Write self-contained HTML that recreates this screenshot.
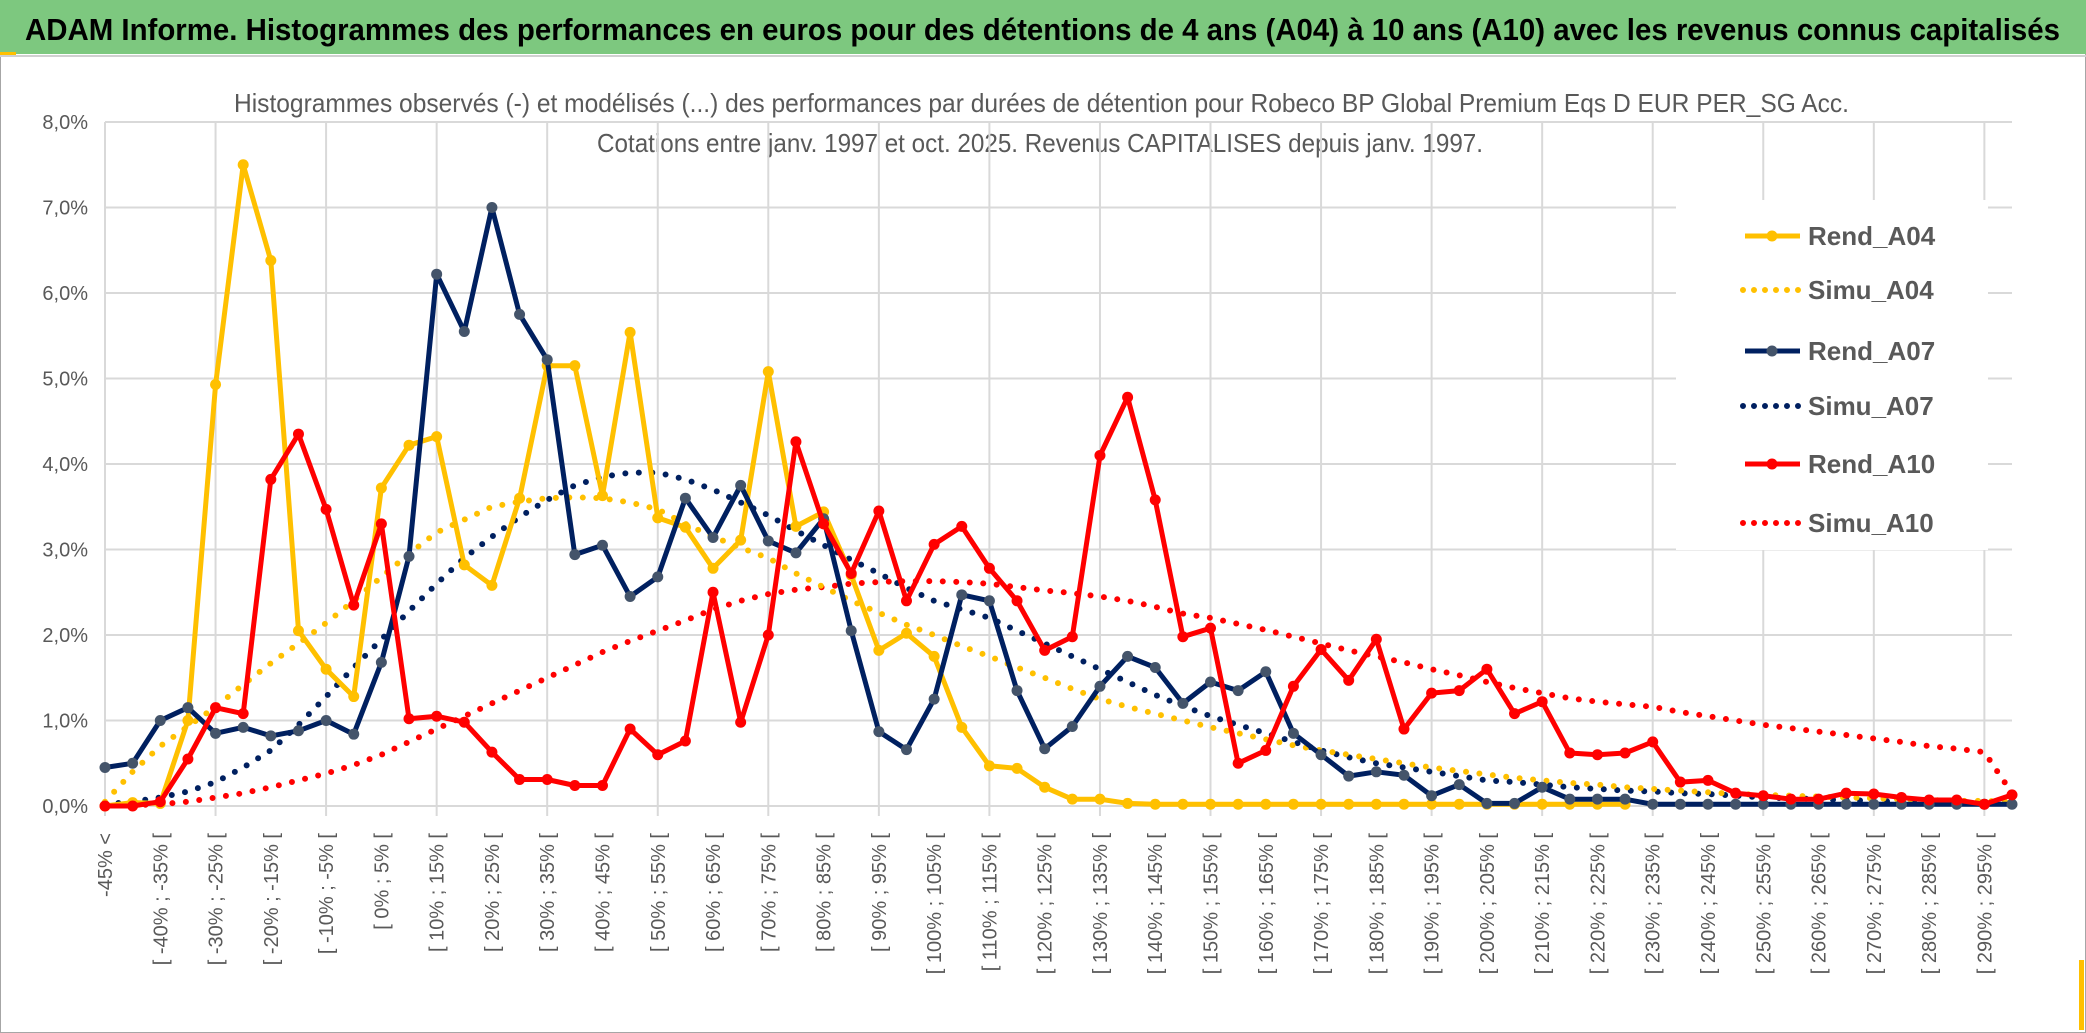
<!DOCTYPE html>
<html><head><meta charset="utf-8">
<style>
html,body{margin:0;padding:0;background:#fff;}
svg{display:block;font-family:"Liberation Sans",sans-serif;}
</style></head>
<body>
<svg id="chart" width="2086" height="1033" viewBox="0 0 2086 1033" xmlns="http://www.w3.org/2000/svg">
  <rect x="0.5" y="0.5" width="2085" height="1032" fill="#fff" stroke="#a6a6a6"/>
  <rect x="0" y="0" width="2086" height="54" fill="#7dc87f"/>
  <rect x="0" y="52" width="16" height="3" fill="#ffc000"/>
  <line x1="0" y1="56" x2="2086" y2="56" stroke="#d0d0d0" stroke-width="2"/>
  <text x="25" y="40" font-size="31" font-weight="bold" fill="#000" textLength="2035" lengthAdjust="spacingAndGlyphs">ADAM Informe. Histogrammes des performances en euros pour des détentions de 4 ans (A04) à 10 ans (A10) avec les revenus connus capitalisés</text>
  <text x="234" y="112" font-size="26" fill="#595959" textLength="1615" lengthAdjust="spacingAndGlyphs">Histogrammes observés (-) et modélisés (...) des performances par durées de détention pour Robeco BP Global Premium Eqs D EUR PER_SG Acc.</text>
  <text x="597" y="152" font-size="26" fill="#595959" textLength="886" lengthAdjust="spacingAndGlyphs">Cotations entre janv. 1997 et oct. 2025. Revenus CAPITALISES depuis janv. 1997.</text>
  <g id="grid"></g>
  <g id="series"></g>
  <g id="legend"></g>
  <rect x="1393" y="1015" width="0" height="0" fill="none"/>
  <rect x="2079" y="960" width="5" height="70" fill="#ffc000"/>
</svg>
<script>
const NS = "http://www.w3.org/2000/svg";
const yTicks = [0,1,2,3,4,5,6,7,8];
const rendA04 = [0,0.04,0.03,1.0,4.93,7.5,6.38,2.05,1.6,1.28,3.72,4.22,4.32,2.82,2.58,3.6,5.15,5.15,3.63,5.54,3.37,3.26,2.78,3.11,5.08,3.27,3.44,2.7,1.82,2.02,1.75,0.92,0.47,0.44,0.22,0.08,0.08,0.03,0.02,0.02,0.02,0.02,0.02,0.02,0.02,0.02,0.02,0.02,0.02,0.02,0.02,0.02,0.02,0.02,0.02,0.02,null,null,null,null,null,null,null,null,null,null,null,null,null,null];
const rendA07 = [0.45,0.5,1.0,1.15,0.85,0.92,0.82,0.88,1.0,0.84,1.68,2.92,6.22,5.55,7.0,5.75,5.22,2.94,3.05,2.45,2.68,3.6,3.14,3.75,3.1,2.96,3.36,2.05,0.87,0.66,1.25,2.47,2.4,1.35,0.67,0.93,1.4,1.75,1.62,1.2,1.45,1.35,1.57,0.85,0.6,0.35,0.4,0.36,0.12,0.25,0.03,0.03,0.22,0.08,0.08,0.08,0.02,0.02,0.02,0.02,0.02,0.02,0.02,0.02,0.02,0.02,0.02,0.02,0.02,0.02];
const rendA10 = [0,0,0.05,0.55,1.15,1.08,3.82,4.35,3.47,2.35,3.3,1.02,1.05,0.98,0.63,0.31,0.31,0.24,0.24,0.9,0.6,0.76,2.5,0.98,2.0,4.26,3.3,2.72,3.45,2.4,3.06,3.27,2.78,2.4,1.82,1.98,4.1,4.78,3.58,1.98,2.08,0.5,0.65,1.4,1.83,1.47,1.95,0.9,1.32,1.35,1.6,1.08,1.22,0.62,0.6,0.62,0.75,0.28,0.3,0.15,0.12,0.08,0.08,0.15,0.14,0.1,0.07,0.07,0.02,0.13];
const simuA04 = [0.05,0.4,0.7,0.93,1.16,1.42,1.67,1.9,2.14,2.4,2.68,2.95,3.2,3.35,3.5,3.56,3.6,3.61,3.6,3.55,3.47,3.3,3.15,3.02,2.9,2.72,2.56,2.4,2.26,2.12,2.0,1.87,1.75,1.62,1.5,1.37,1.25,1.16,1.08,1.0,0.92,0.85,0.78,0.71,0.65,0.6,0.55,0.5,0.45,0.41,0.37,0.33,0.3,0.27,0.25,0.22,0.2,0.18,0.16,0.14,0.13,0.12,0.11,0.1,0.09,0.08,0.07,0.06,0.06,0.05];
const simuA07 = [0.02,0.05,0.1,0.17,0.28,0.45,0.65,0.95,1.28,1.62,1.95,2.28,2.6,2.9,3.15,3.38,3.58,3.75,3.85,3.9,3.9,3.82,3.7,3.55,3.4,3.22,3.05,2.88,2.72,2.55,2.4,2.3,2.2,2.05,1.9,1.75,1.6,1.45,1.3,1.17,1.05,0.95,0.85,0.75,0.65,0.57,0.5,0.45,0.4,0.35,0.3,0.28,0.25,0.22,0.2,0.18,0.17,0.15,0.14,0.12,0.1,0.09,0.08,0.07,0.06,0.05,0.05,0.04,0.04,0.03];
const simuA10 = [0,0.01,0.02,0.05,0.1,0.15,0.22,0.3,0.38,0.48,0.6,0.75,0.9,1.05,1.2,1.35,1.5,1.65,1.8,1.93,2.05,2.17,2.3,2.4,2.48,2.53,2.56,2.6,2.62,2.63,2.63,2.62,2.6,2.56,2.52,2.49,2.45,2.4,2.33,2.25,2.2,2.13,2.06,1.98,1.9,1.82,1.75,1.68,1.6,1.53,1.45,1.38,1.32,1.26,1.22,1.19,1.16,1.1,1.05,1.0,0.95,0.91,0.87,0.83,0.79,0.75,0.7,0.67,0.63,0.15];
const seriesNames = ["Rend_A04","Simu_A04","Rend_A07","Simu_A07","Rend_A10","Simu_A10"];

const N = 70;
const X0 = 105, X1 = 2012, Y0 = 806, YTOP = 122;
const xs = i => X0 + (X1 - X0) * i / (N - 1);
const ys = v => Y0 - (Y0 - YTOP) * v / 8;
function catLabel(i){
  if(i===0) return "-45% <";
  const a = -45 + 5*(i-1), b = a + 5;
  return "[ " + a + "% ; " + b + "% [";
}
const grid = document.getElementById('grid');
yTicks.forEach(t=>{
  const l = document.createElementNS(NS,'line');
  l.setAttribute('x1',X0); l.setAttribute('x2',X1);
  l.setAttribute('y1',ys(t)); l.setAttribute('y2',ys(t));
  l.setAttribute('stroke','#d9d9d9'); l.setAttribute('stroke-width','2');
  
  
  grid.appendChild(l);
  const tx = document.createElementNS(NS,'text');
  tx.setAttribute('x',88); tx.setAttribute('y',ys(t)+7);
  tx.setAttribute('text-anchor','end'); tx.setAttribute('font-size','20'); tx.setAttribute('fill','#595959');
  tx.textContent = t.toFixed(1).replace('.',',') + '%';
  
  
  grid.appendChild(tx);
});
for(let i=0;i<N;i+=4){
  const l = document.createElementNS(NS,'line');
  l.setAttribute('x1',xs(i)); l.setAttribute('x2',xs(i));
  l.setAttribute('y1',YTOP); l.setAttribute('y2',Y0+10);
  l.setAttribute('stroke','#d9d9d9'); l.setAttribute('stroke-width','2');
  
  
  grid.appendChild(l);
}
for(let i=0;i<N;i+=2){
  const tx = document.createElementNS(NS,'text');
  const x = xs(i)+7, y = 833;
  tx.setAttribute('x',x); tx.setAttribute('y',y);
  tx.setAttribute('transform','rotate(-90 '+x+' '+y+')');
  tx.setAttribute('text-anchor','end'); tx.setAttribute('font-size','20'); tx.setAttribute('fill','#595959');
  tx.textContent = catLabel(i);
  
  
  grid.appendChild(tx);
}
const ser = document.getElementById('series');
function pathFor(arr){
  let d='', pen=false;
  arr.forEach((v,i)=>{
    if(v===null){pen=false;return;}
    d += (pen?'L':'M') + xs(i).toFixed(1) + ' ' + ys(v).toFixed(1) + ' ';
    pen=true;
  });
  return d;
}
function drawSimu(arr,color,name){
  const p = document.createElementNS(NS,'path');
  p.setAttribute('d',pathFor(arr)); p.setAttribute('fill','none');
  p.setAttribute('stroke',color); p.setAttribute('stroke-width','6');
  p.setAttribute('stroke-linecap','round'); p.setAttribute('stroke-dasharray','0 13.5');
  
  
  ser.appendChild(p);
}
function drawRend(arr,color,mcolor,name){
  const p = document.createElementNS(NS,'path');
  p.setAttribute('d',pathFor(arr)); p.setAttribute('fill','none');
  p.setAttribute('stroke',color); p.setAttribute('stroke-width','5');
  p.setAttribute('stroke-linejoin','round');
  
  
  ser.appendChild(p);
  arr.forEach((v,i)=>{
    if(v===null) return;
    const c = document.createElementNS(NS,'circle');
    c.setAttribute('cx',xs(i)); c.setAttribute('cy',ys(v)); c.setAttribute('r','5.5');
    c.setAttribute('fill',mcolor);
    
    
    ser.appendChild(c);
  });
}
drawSimu(simuA10,'#ff0000','simu-a10-line');
drawSimu(simuA07,'#002060','simu-a07-line');
drawSimu(simuA04,'#ffc000','simu-a04-line');
drawRend(rendA04,'#ffc000','#ffc000','rend-a04-line');
drawRend(rendA07,'#002060','#44546a','rend-a07-line');
drawRend(rendA10,'#ff0000','#ff0000','rend-a10-line');

const leg = document.getElementById('legend');
const bg = document.createElementNS(NS,'rect');
bg.setAttribute('x',1676); bg.setAttribute('y',200); bg.setAttribute('width',312); bg.setAttribute('height',350); bg.setAttribute('fill','#fff');


leg.appendChild(bg);
const legY = [236,290,351,406,464,523];
const legColors = ['#ffc000','#ffc000','#002060','#002060','#ff0000','#ff0000'];
seriesNames.forEach((nm,k)=>{
  const g = document.createElementNS(NS,'g');
  
  
  const l = document.createElementNS(NS,'line');
  l.setAttribute('x1',1745); l.setAttribute('x2',1800); l.setAttribute('y1',legY[k]); l.setAttribute('y2',legY[k]);
  l.setAttribute('stroke',legColors[k]);
  if(nm.startsWith('Simu')){
    l.setAttribute('stroke-width','6'); l.setAttribute('stroke-linecap','round'); l.setAttribute('stroke-dasharray','0 11');
    l.setAttribute('x1',1743); l.setAttribute('x2',1800);
  } else {
    l.setAttribute('stroke-width','5');
  }
  g.appendChild(l);
  if(nm.startsWith('Rend')){
    const c = document.createElementNS(NS,'circle');
    c.setAttribute('cx',1772); c.setAttribute('cy',legY[k]); c.setAttribute('r','5.5');
    c.setAttribute('fill', k===2 ? '#44546a' : legColors[k]);
    g.appendChild(c);
  }
  const t = document.createElementNS(NS,'text');
  t.setAttribute('x',1808); t.setAttribute('y',legY[k]+9);
  t.setAttribute('font-size','26'); t.setAttribute('fill','#595959'); t.setAttribute('font-weight','bold');
  t.textContent = nm;
  g.appendChild(t);
  leg.appendChild(g);
});
</script>
</body></html>
